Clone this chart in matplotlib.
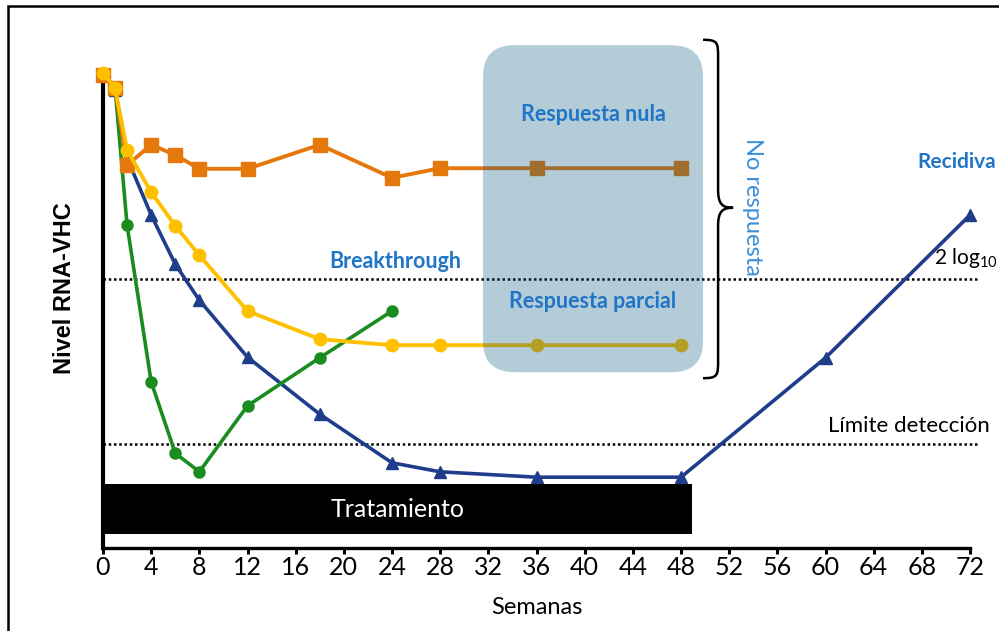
import matplotlib
matplotlib.use("Agg")
import matplotlib.pyplot as plt
from matplotlib.patches import FancyBboxPatch, Rectangle, PathPatch
from matplotlib.path import Path

plt.rcParams['font.family'] = ['Lato', 'DejaVu Sans']
plt.rcParams['mathtext.fontset'] = 'custom'
plt.rcParams['mathtext.rm'] = 'Lato'

# Viral load profiles (arbitrary log units) by week of follow-up
weeks_nula = [0, 1, 2, 4, 6, 8, 12, 18, 24, 28, 36, 48]
rna_nula = [7.88, 7.67, 6.38, 6.72, 6.55, 6.32, 6.32, 6.72, 6.17, 6.33, 6.33, 6.33]

weeks_parcial = [0, 1, 2, 4, 6, 8, 12, 18, 24, 28, 36, 48]
rna_parcial = [7.92, 7.67, 6.63, 5.93, 5.37, 4.88, 3.95, 3.48, 3.38, 3.38, 3.38, 3.38]

weeks_breakthrough = [0, 1, 2, 4, 6, 8, 12, 18, 24]
rna_breakthrough = [7.92, 7.67, 5.38, 2.77, 1.58, 1.27, 2.37, 3.17, 3.95]

weeks_recidiva = [0, 1, 2, 4, 6, 8, 12, 18, 24, 28, 36, 48, 60, 72]
rna_recidiva = [7.92, 7.63, 6.50, 5.55, 4.73, 4.13, 3.18, 2.23, 1.42, 1.27, 1.18, 1.18, 3.17, 5.55]

# Reference levels
nivel_2log = 4.48
limite_deteccion = 1.73
semana_fin_tratamiento = 48.9
xticks = list(range(0, 73, 4))

C_ORANGE = "#e5780c"
C_YELLOW = "#ffc000"
C_GREEN = "#1b8c1f"
C_BLUE = "#1f3d8a"
C_TEXT = "#1f75c6"
C_TEXT2 = "#3b8fd8"

fig = plt.figure(figsize=(9.99, 6.31), dpi=100)
ax = fig.add_axes([103 / 999, 83 / 631, 867 / 999, 528 / 631])
ax.set_xlim(0, 72)
ax.set_ylim(0, 8.8)

# Curves
ax.plot(weeks_recidiva, rna_recidiva, color=C_BLUE, lw=2.6, marker='^', ms=8,
        clip_on=False, zorder=3)
ax.plot(weeks_breakthrough, rna_breakthrough, color=C_GREEN, lw=2.6, marker='o', ms=8,
        clip_on=False, zorder=4)
ax.plot(weeks_nula, rna_nula, color=C_ORANGE, lw=2.8, marker='s', ms=9.5,
        clip_on=False, zorder=5)
ax.plot(weeks_parcial, rna_parcial, color=C_YELLOW, lw=2.8, marker='o', ms=9,
        clip_on=False, zorder=6)

# Dotted reference lines
for lvl in (nivel_2log, limite_deteccion):
    ax.plot([0, 72.6], [lvl, lvl], color='black', lw=1.8, ls=(0, (1, 1.1)),
            clip_on=False, zorder=2)

# Non-response shaded region
box = FancyBboxPatch((31.56, 2.93), 49.83 - 31.56, 8.38 - 2.93,
                     boxstyle="round,pad=0,rounding_size=2.6",
                     mutation_aspect=0.2, facecolor="#0d5a81", alpha=0.31,
                     edgecolor='none', zorder=7, clip_on=False)
ax.add_patch(box)

# Treatment bar
ax.add_patch(Rectangle((0, 0.233), semana_fin_tratamiento, 0.834, facecolor='black',
                       edgecolor='none', zorder=8, clip_on=False))
ax.text(24.5, 0.64, "Tratamiento", color='white', fontsize=18, ha='center',
        va='center', zorder=9)

# Curly brace grouping the non-response patterns
xl, xm, xt = 49.83, 51.08, 52.33
yt, yb, ym = 8.47, 2.83, 5.67
verts = [
    (xl, yt), (xm, yt), (xm, yt - 0.05), (xm, yt - 0.3),
    (xm, ym + 0.3),
    (xm, ym + 0.05), (xm + 0.4, ym), (xt, ym),
    (xm + 0.4, ym), (xm, ym - 0.05), (xm, ym - 0.3),
    (xm, yb + 0.3),
    (xm, yb + 0.05), (xm, yb), (xl, yb),
]
codes = [Path.MOVETO, Path.CURVE4, Path.CURVE4, Path.CURVE4,
         Path.LINETO,
         Path.CURVE4, Path.CURVE4, Path.CURVE4,
         Path.CURVE4, Path.CURVE4, Path.CURVE4,
         Path.LINETO,
         Path.CURVE4, Path.CURVE4, Path.CURVE4]
ax.add_patch(PathPatch(Path(verts, codes), facecolor='none', edgecolor='black',
                       lw=1.8, clip_on=False, zorder=9))

# Annotations
bold_kw = dict(color=C_TEXT, fontsize=15.5, fontweight='bold', ha='center',
               va='center', zorder=10, clip_on=False)
ax.text(40.7, 7.23, "Respuesta nula", **bold_kw)
ax.text(40.7, 4.10, "Respuesta parcial", **bold_kw)
ax.text(24.25, 4.78, "Breakthrough", **bold_kw)
ax.text(67.6, 6.43, "Recidiva", color=C_TEXT, fontsize=15, fontweight='bold',
        ha='left', va='center', zorder=10, clip_on=False)
ax.text(53.9, 5.68, "No respuesta", color=C_TEXT2, fontsize=17, rotation=-90,
        ha='center', va='center', zorder=10, clip_on=False,
        bbox=dict(facecolor='white', edgecolor='none', pad=1))
ax.text(69.0, 4.83, r"2 log$_\mathregular{10}$", color='black', fontsize=15,
        ha='left', va='center', zorder=10, clip_on=False)
ax.text(66.9, 2.03, "Límite detección", color='black', fontsize=16,
        ha='center', va='center', zorder=10, clip_on=False)
ax.text(-3.2, 4.33, "Nivel RNA-VHC", family='Liberation Sans', fontweight='bold',
        fontsize=17, rotation=90, ha='center', va='center', clip_on=False)

# Axes styling
for side in ('top', 'right'):
    ax.spines[side].set_visible(False)
ax.spines['left'].set_linewidth(3.0)
ax.spines['left'].set_bounds(0, 7.92)
ax.spines['bottom'].set_linewidth(2.4)
ax.set_yticks([])
ax.set_xticks(xticks)
ax.tick_params(axis='x', direction='out', length=4, width=2.2, pad=2,
               labelsize=18)
ax.set_xlabel("Semanas", fontsize=17, labelpad=13)

# Outer frame
fig.add_artist(Rectangle((8 / 999, -10 / 631), 1.1, 1 + 4 / 631,
                         transform=fig.transFigure, facecolor='none',
                         edgecolor='black', lw=1.8))

fig.savefig("out.png", dpi=100)
